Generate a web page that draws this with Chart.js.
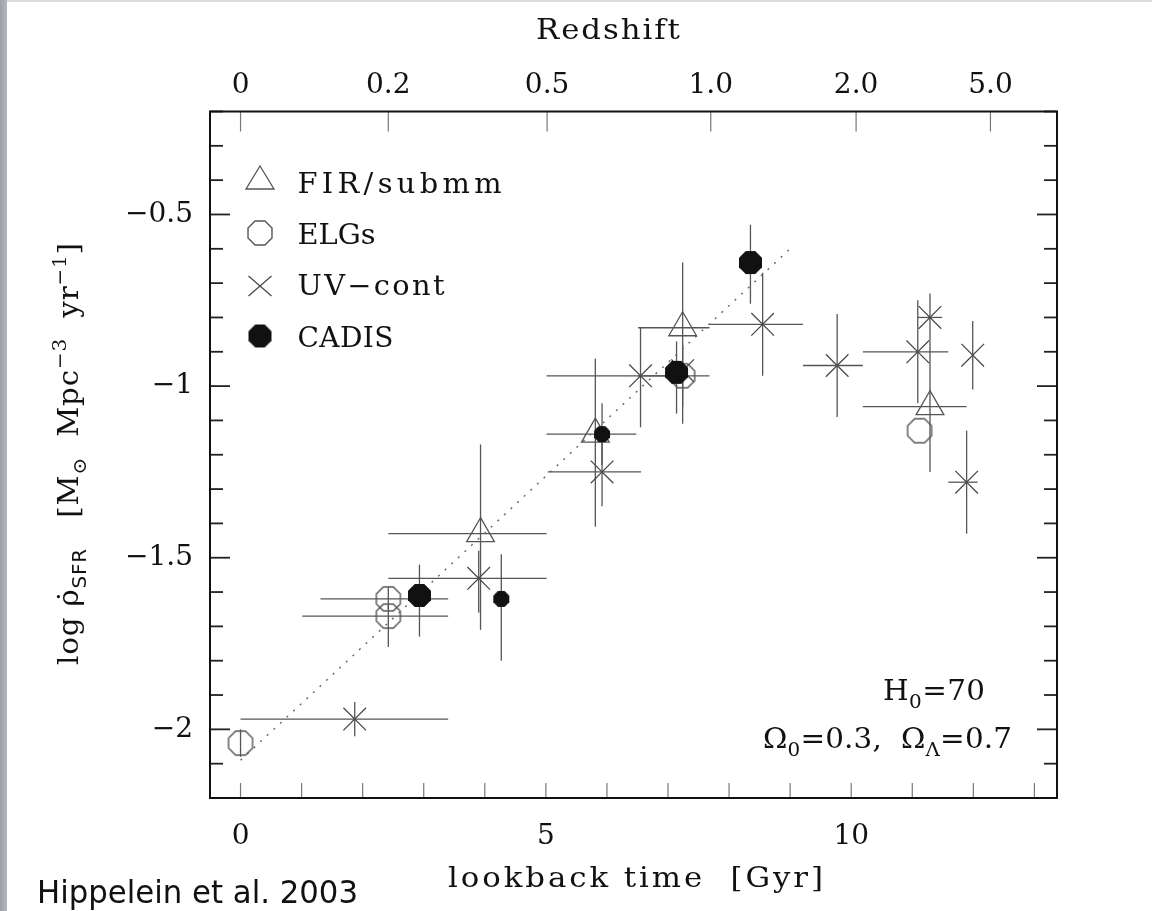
<!DOCTYPE html>
<html>
<head>
<meta charset="utf-8">
<script src="https://cdn.jsdelivr.net/npm/chart.js@4.4.1/dist/chart.umd.min.js"></script>
<style>
  html, body { margin: 0; padding: 0; background: #fff; overflow: hidden; }
  canvas { display: block; }
</style>
</head>
<body>
<canvas id="chart" width="1152" height="911"></canvas>
<script>
// star formation rate density vs lookback time (Hippelein et al. 2003)
// rows: [lookback Gyr, log rho, tMin, tMax, logMin, logMax]   null = no bar
const firSubmm = [
  [3.93, -1.43, 2.42, 5.01, -1.71, -1.17],
  [5.81, -1.14, 5.01, 6.48, -1.41, -0.92],
  [7.24, -0.83, 6.51, 7.68, -1.11, -0.64],
  [11.29, -1.06, 10.19, 11.89, -1.25, -0.87]
]
const elgs = [
  [0.00, -2.04, null, null, -2.08, -2.00],
  [2.42, -1.62, 1.31, 3.40, -1.65, -1.585],
  [2.42, -1.67, 1.01, 3.40, -1.76, -1.64],
  [7.24, -0.97, 6.51, 7.68, -1.06, -0.88],
  [11.12, -1.13, null, null, null, null]
]
const uvCont = [
  [1.87, -1.97, 0.00, 3.40, -2.02, -1.92],
  [3.90, -1.56, 2.42, 5.01, -1.66, -1.48],
  [5.92, -1.25, 5.03, 6.56, -1.35, -1.15],
  [6.55, -0.97, 5.01, 7.00, -1.12, -0.83],
  [7.24, -0.955, null, null, null, null],
  [8.55, -0.82, 7.68, 9.21, -0.97, -0.67],
  [9.77, -0.94, 9.21, 10.19, -1.09, -0.79],
  [11.09, -0.90, 10.19, 11.59, -1.05, -0.75],
  [11.29, -0.80, 11.09, 11.49, -0.87, -0.73],
  [11.99, -0.91, null, null, -1.01, -0.81],
  [11.89, -1.28, 11.59, 12.07, -1.43, -1.13]
]
// CADIS, big and small symbols
const cadisLarge = [
  [2.93, -1.61, null, null, -1.73, -1.52],
  [7.14, -0.96, null, null, -1.08, -0.87],
  [8.35, -0.64, null, null, -0.76, -0.53]
]
const cadisSmall = [
  [4.27, -1.62, null, null, -1.80, -1.49],
  [5.92, -1.14, null, null, -1.23, -1.05]
]
// dotted line
const fitLine = [[0, -2.09], [9.0, -0.60]]

const lookbackTicks = [0, 1, 2, 3, 4, 5, 6, 7, 8, 9, 10, 11, 12, 13]
const lookbackLabels = ['0', '', '', '', '', '5', '', '', '', '', '10', '', '', '']
const redshiftTicks = [0, 2.42, 5.02, 7.70, 10.08, 12.28]
const redshiftLabels = ['0', '0.2', '0.5', '1.0', '2.0', '5.0']
const sfrTicks = [-2.2, -2.1, -2.0, -1.9, -1.8, -1.7, -1.6, -1.5, -1.4, -1.3, -1.2,
                  -1.1, -1.0, -0.9, -0.8, -0.7, -0.6, -0.5, -0.4, -0.3, -0.2]
const sfrMajor = [-2, -1.5, -1, -0.5]
const sfrMajorLabels = ['\u22122', '\u22121.5', '\u22121', '\u22120.5']

const SERIF = '"DejaVu Serif", "Liberation Serif", serif'

function toPoint(r) {
  return { x: r[0], y: r[1], xMin: r[2], xMax: r[3], yMin: r[4], yMax: r[5] }
}

function majorIndex(v) {
  return sfrMajor.findIndex(m => Math.abs(m - v) < 1e-6)
}

function octagonImage(size, fill, stroke) {
  const c = document.createElement('canvas')
  c.width = c.height = size + 4
  const g = c.getContext('2d')
  const R = size / 2 / Math.cos(Math.PI / 8)
  const m = c.width / 2
  g.beginPath()
  for (let i = 0; i < 8; i++) {
    const a = Math.PI / 8 + i * Math.PI / 4
    g.lineTo(m + R * Math.cos(a), m + R * Math.sin(a))
  }
  g.closePath()
  if (fill) { g.fillStyle = fill; g.fill() }
  if (stroke) { g.strokeStyle = stroke; g.lineWidth = 1.4; g.stroke() }
  return c
}

const bigDot = octagonImage(23, '#111')
const smallDot = octagonImage(16, '#111')
const openOct = octagonImage(24, null, '#555')

// draw text glyph by glyph (slightly widened), spread to a target width
// segs = [text, kind]  kind: n | sub | sup | subsans
function drawSpaced(ctx, segs, x, y, size, target, stretch) {
  stretch = stretch || 1.1
  const units = []
  segs.forEach(([text, kind]) => {
    const small = kind !== 'n'
    const fs = small ? size * 0.68 : size
    const dy = kind === 'sup' ? -size * 0.42 : (small ? size * 0.3 : 0)
    const fam = kind === 'subsans' ? '"DejaVu Sans", sans-serif' : SERIF
    Array.from(text).forEach(ch => {
      if (/[\u0300-\u036f]/.test(ch) && units.length) { units[units.length - 1].ch += ch; return }
      units.push({ ch, font: fs + 'px ' + fam, dy, w: 0 })
    })
  })
  units.forEach(u => { ctx.font = u.font; u.w = ctx.measureText(u.ch).width * stretch })
  const natural = units.reduce((s, u) => s + u.w, 0)
  const gap = target ? (target - natural) / Math.max(units.length - 1, 1) : 0
  let cx = x
  units.forEach(u => {
    ctx.font = u.font
    ctx.save()
    ctx.translate(cx, y + u.dy)
    ctx.scale(stretch, 1)
    ctx.fillText(u.ch, 0, 0)
    ctx.restore()
    cx += u.w + gap
  })
}

function line(ctx, x1, y1, x2, y2) {
  ctx.beginPath(); ctx.moveTo(x1, y1); ctx.lineTo(x2, y2); ctx.stroke()
}

const paperPlugin = {
  id: 'paper',
  beforeDraw(chart) {
    const ctx = chart.ctx
    ctx.save()
    ctx.fillStyle = '#fff'
    ctx.fillRect(0, 0, chart.width, chart.height)
    const grad = ctx.createLinearGradient(0, 0, 8, 0)
    grad.addColorStop(0, '#9da1a5')
    grad.addColorStop(1, '#b8bcc0')
    ctx.fillStyle = grad
    ctx.fillRect(0, 0, 7, chart.height)
    ctx.fillStyle = '#dcdcdc'
    ctx.fillRect(7, 0, chart.width, 2)
    ctx.restore()
  }
}

const errorBarPlugin = {
  id: 'errorBars',
  beforeDatasetsDraw(chart) {
    const { ctx, scales: { x, y } } = chart
    ctx.save()
    ctx.strokeStyle = '#555'
    ctx.lineWidth = 1.3
    chart.data.datasets.forEach(ds => {
      if (!ds.errorBars) return
      ds.data.forEach(p => {
        const px = x.getPixelForValue(p.x), py = y.getPixelForValue(p.y)
        if (p.xMin != null) line(ctx, x.getPixelForValue(p.xMin), py, x.getPixelForValue(p.xMax), py)
        if (p.yMin != null) line(ctx, px, y.getPixelForValue(p.yMin), px, y.getPixelForValue(p.yMax))
      })
    })
    ctx.restore()
  }
}

const framePlugin = {
  id: 'frame',
  afterDraw(chart) {
    const { ctx, chartArea: a, scales } = chart
    ctx.save()
    // inward ticks
    ctx.strokeStyle = '#222'
    ctx.lineWidth = 1.8
    scales.y.ticks.forEach(t => {
      const py = scales.y.getPixelForValue(t.value)
      const len = majorIndex(t.value) >= 0 ? 20 : 13
      line(ctx, a.left, py, a.left + len, py)
      line(ctx, a.right, py, a.right - len, py)
    })
    ctx.strokeStyle = '#777'
    ctx.lineWidth = 1.2
    scales.x.ticks.forEach(t => {
      const px = scales.x.getPixelForValue(t.value)
      line(ctx, px, a.bottom, px, a.bottom - 15)
    })
    scales.x2.ticks.forEach(t => {
      const px = scales.x2.getPixelForValue(t.value)
      line(ctx, px, a.top, px, a.top + 20)
    })
    // box
    ctx.strokeStyle = '#111'
    ctx.lineWidth = 2
    ctx.strokeRect(a.left, a.top, a.right - a.left, a.bottom - a.top)

    ctx.fillStyle = '#111'
    ctx.textBaseline = 'alphabetic'
    ctx.textAlign = 'left'
    drawSpaced(ctx, [['Redshift', 'n']], 536, 39, 28, 144)
    drawSpaced(ctx, [['lookback time  [Gyr]', 'n']], 448, 887, 28, 375)
    drawSpaced(ctx, [['H', 'n'], ['0', 'sub'], ['=70', 'n']], 883, 700, 28, 102, 1.05)
    drawSpaced(ctx, [['\u03a9', 'n'], ['0', 'sub'], ['=0.3,  \u03a9', 'n'], ['\u039b', 'sub'], ['=0.7', 'n']], 763, 748, 28, 249, 1.05)

    // y title, rotated
    ctx.save()
    ctx.translate(78, 665)
    ctx.rotate(-Math.PI / 2)
    drawSpaced(ctx, [['log ', 'n'], ['\u03c1\u0307', 'n'], ['SFR', 'subsans'], ['   [M', 'n'], ['\u2299', 'sub'],
      ['  Mpc', 'n'], ['\u22123', 'sup'], ['  yr', 'n'], ['\u22121', 'sup'], [']', 'n']], 0, 0, 28, 422, 1.05)
    ctx.restore()

    // credit line, condensed sans
    ctx.font = '32px "DejaVu Sans Condensed", "DejaVu Sans", sans-serif'
    const credit = 'Hippelein et al. 2003'
    const cw = ctx.measureText(credit).width
    ctx.save()
    ctx.translate(37, 903)
    ctx.scale(321 / cw, 1)
    ctx.fillText(credit, 0, 0)
    ctx.restore()
    ctx.restore()
  }
}

const legendPlugin = {
  id: 'symbolLegend',
  afterDatasetsDraw(chart) {
    const ctx = chart.ctx
    ctx.save()
    const sx = 260
    // triangle
    ctx.strokeStyle = '#555'
    ctx.lineWidth = 1.3
    ctx.beginPath()
    ctx.moveTo(sx, 166); ctx.lineTo(sx + 14, 189); ctx.lineTo(sx - 14, 189); ctx.closePath()
    ctx.stroke()
    ctx.drawImage(openOct, sx - openOct.width / 2, 233 - openOct.height / 2)
    ctx.strokeStyle = '#4a4a4a'
    line(ctx, sx - 11.5, 286 - 10, sx + 11.5, 286 + 10)
    line(ctx, sx - 11.5, 286 + 10, sx + 11.5, 286 - 10)
    ctx.drawImage(bigDot, sx - bigDot.width / 2, 336 - bigDot.height / 2)

    ctx.fillStyle = '#111'
    ctx.textBaseline = 'alphabetic'
    drawSpaced(ctx, [['FIR/submm', 'n']], 297.5, 192.5, 28, 204, 1.03)
    drawSpaced(ctx, [['ELGs', 'n']], 297.5, 243.5, 28, 78, 1.03)
    drawSpaced(ctx, [['UV\u2212cont', 'n']], 297.5, 295, 28, 147, 1.03)
    drawSpaced(ctx, [['CADIS', 'n']], 297.5, 346.5, 28, 96, 1.0)
    ctx.restore()
  }
}

const tickFont = { family: SERIF, size: 28 }

new Chart(document.getElementById('chart'), {
  type: 'scatter',
  data: {
    datasets: [
      { label: 'CADIS', data: cadisLarge.map(toPoint), errorBars: true,
        pointStyle: bigDot, pointRadius: 12 },
      { label: 'CADIS (small)', data: cadisSmall.map(toPoint), errorBars: true,
        pointStyle: smallDot, pointRadius: 8 },
      { label: 'FIR/submm', data: firSubmm.map(toPoint), errorBars: true,
        pointStyle: 'triangle', pointRadius: 16, borderColor: '#555',
        backgroundColor: 'rgba(0,0,0,0)', borderWidth: 1.3 },
      { label: 'ELGs', data: elgs.map(toPoint), errorBars: true,
        pointStyle: openOct, pointRadius: 12 },
      { label: 'UV-cont', data: uvCont.map(toPoint), errorBars: true,
        pointStyle: 'crossRot', pointRadius: 16, borderColor: '#4a4a4a', borderWidth: 1.3 },
      { label: 'fit', data: fitLine.map(p => ({ x: p[0], y: p[1] })), showLine: true,
        borderColor: '#666', borderDash: [2, 7], borderWidth: 1.4, pointRadius: 0 }
    ]
  },
  options: {
    responsive: false,
    animation: false,
    devicePixelRatio: 1,
    events: [],
    layout: { padding: { left: 0, right: 95, top: 0, bottom: 0 } },
    plugins: { legend: { display: false }, tooltip: { enabled: false } },
    scales: {
      x: {
        type: 'linear', position: 'bottom', min: -0.5, max: 13.37,
        afterBuildTicks: s => { s.ticks = lookbackTicks.map(v => ({ value: v })) },
        afterFit: s => { s.height = 113 },
        grid: { display: false, drawTicks: false },
        border: { display: false },
        ticks: { callback: (v, i) => lookbackLabels[i], font: tickFont, color: '#111',
                 padding: 22, maxRotation: 0, autoSkip: false }
      },
      x2: {
        type: 'linear', position: 'top', min: -0.5, max: 13.37,
        afterBuildTicks: s => { s.ticks = redshiftTicks.map(v => ({ value: v })) },
        afterFit: s => { s.height = 111.5 },
        grid: { display: false, drawTicks: false },
        border: { display: false },
        ticks: { callback: (v, i) => redshiftLabels[i], font: tickFont, color: '#111',
                 padding: 9, maxRotation: 0, autoSkip: false }
      },
      y: {
        type: 'linear', position: 'left', min: -2.2, max: -0.2,
        afterBuildTicks: s => { s.ticks = sfrTicks.map(v => ({ value: v })) },
        afterFit: s => { s.width = 210 },
        grid: { display: false, drawTicks: false },
        border: { display: false },
        ticks: {
          callback: v => { const k = majorIndex(v); return k >= 0 ? sfrMajorLabels[k] : '' },
          font: tickFont, color: '#111', padding: 17, autoSkip: false
        }
      }
    }
  },
  plugins: [paperPlugin, errorBarPlugin, legendPlugin, framePlugin]
})
</script>
</body>
</html>
